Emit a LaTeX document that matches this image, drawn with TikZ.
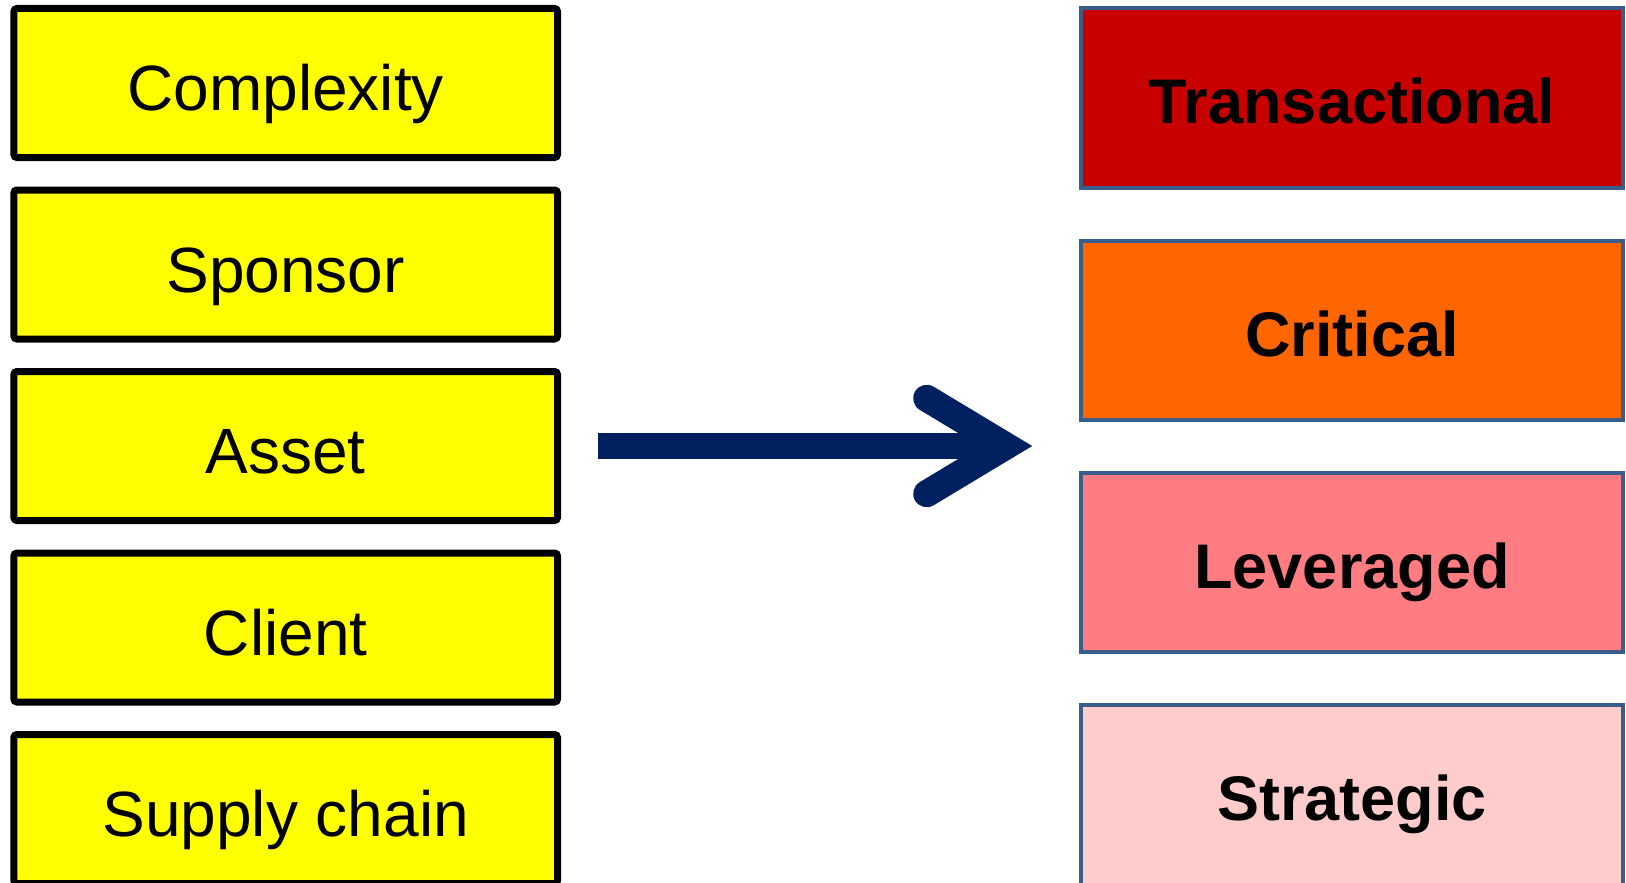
\documentclass[tikz,border=0pt]{standalone}
\usepackage{fontspec}
\setmainfont{Liberation Sans}
\usetikzlibrary{calc}
\definecolor{boxyellow}{HTML}{FFFF00}
\definecolor{transred}{HTML}{C80000}
\definecolor{critorange}{HTML}{FF6600}
\definecolor{levpink}{HTML}{FF7C80}
\definecolor{stratpink}{HTML}{FFCCCC}
\definecolor{rborder}{HTML}{3A5E8C}
\definecolor{arrownavy}{HTML}{002060}
\begin{document}
\begin{tikzpicture}[x=1pt,y=-1pt,
  leftbox/.style={draw=black, line width=7pt, fill=boxyellow, rounded corners=3pt,
    minimum width=543.6pt, minimum height=149pt, inner sep=0pt,
    text height=55pt, text depth=0pt,
    font=\fontsize{64}{70}\selectfont},
  rightbox/.style={draw=rborder, line width=4pt,
    minimum width=542pt, minimum height=179.5pt, inner sep=0pt,
    text height=52pt, text depth=0pt,
    font=\fontsize{63}{70}\selectfont\bfseries},
  shaft/.style={draw=arrownavy, line width=26pt, line cap=butt},
  chevron/.style={draw=arrownavy, line width=27pt, line cap=round, line join=miter}]
\useasboundingbox (0,0) rectangle (1626,883);
\fill[white] (0,0) rectangle (1626,883);
\begin{scope}
\clip (0,0) rectangle (1626,883);
\node[leftbox] (complexity) at (285.7,83) {Complexity};
\node[leftbox] (sponsor) at (285.7,264.5) {Sponsor};
\node[leftbox] (asset) at (285.7,446) {Asset};
\node[leftbox] (client) at (285.7,627.5) {Client};
\node[leftbox] (supply) at (285.7,809) {Supply chain};
\node[rightbox, fill=transred] (trans) at (1352,98) {Transactional};
\node[rightbox, fill=critorange] (crit) at (1352,330.3) {Critical};
\node[rightbox, fill=levpink] (lev) at (1352,562.6) {Leveraged};
\node[rightbox, fill=stratpink] (strat) at (1352,794.9) {Strategic};
\end{scope}
\coordinate (ashaft) at ($(asset.east)+(37,0)$);
\coordinate (atip) at (1006,446);
\coordinate (aup) at (926.7,398.3);
\coordinate (adown) at (926.7,493.7);
\draw[shaft] (ashaft) -- (1000,446);
\draw[chevron] (aup) -- (atip) -- (adown);
\end{tikzpicture}
\end{document}
